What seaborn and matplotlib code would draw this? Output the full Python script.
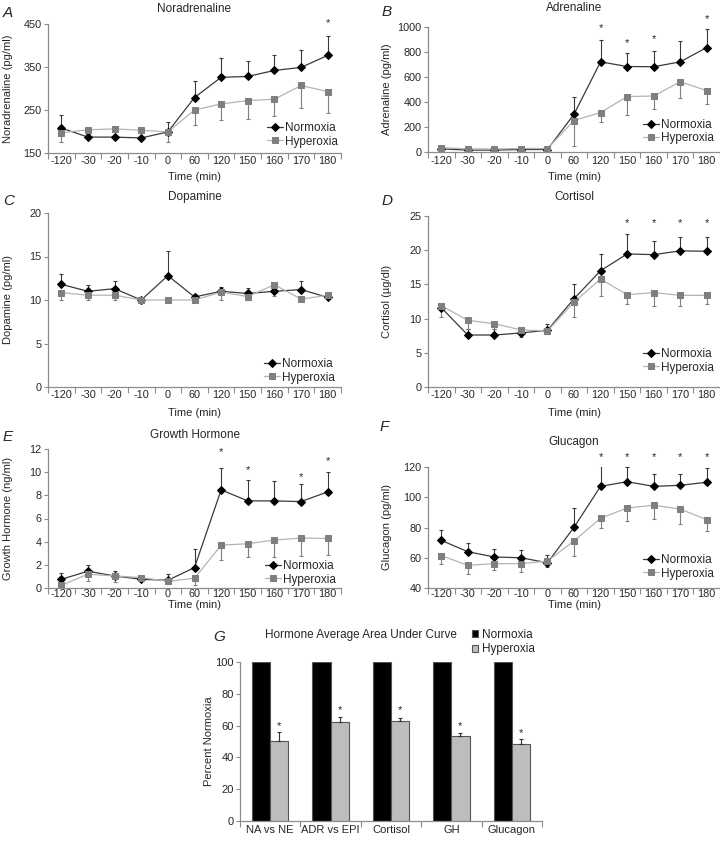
import numpy as np
import pandas as pd
import matplotlib
matplotlib.use('Agg')
import matplotlib.pyplot as plt
import seaborn as sns

sns.set_style('white')
plt.rcParams['font.family'] = ['Liberation Sans', 'DejaVu Sans']

# ---- data ----
times = ['-120', '-30', '-20', '-10', '0', '60', '120', '150', '160', '170', '180']

na_norm = [208, 187, 187, 185, 199, 279, 326, 328, 342, 349, 377]
na_norm_err = [31, 8, 5, 4, 23, 39, 44, 37, 35, 41, 44]
na_hyp = [197, 204, 206, 203, 199, 250, 264, 272, 275, 307, 293]
na_hyp_err = [21, 5, 4, 3, 23, 34, 38, 42, 39, 53, 51]
na_stars = {'180': 452}

adr_norm = [25, 15, 15, 20, 20, 302, 721, 684, 682, 721, 836]
adr_norm_err = [10, 5, 5, 5, 5, 141, 178, 112, 130, 165, 148]
adr_hyp = [35, 25, 25, 28, 28, 252, 316, 443, 448, 562, 491]
adr_hyp_err = [10, 5, 5, 5, 5, 202, 72, 149, 103, 132, 104]
adr_stars = {'120': 995, '150': 873, '160': 902, '180': 1066}

da_norm = [11.8, 11.0, 11.3, 10.0, 12.8, 10.35, 11.0, 10.75, 11.0, 11.2, 10.3]
da_norm_err = [1.15, 0.77, 0.9, 0.0, 2.85, 0.3, 0.55, 0.6, 0.3, 1.0, 0.1]
da_hyp = [10.85, 10.55, 10.55, 10.0, 10.0, 10.0, 10.9, 10.4, 11.76, 10.1, 10.55]
da_hyp_err = [0.87, 0.55, 0.55, 0.0, 0.0, 0.0, 0.9, 0.4, 1.3, 0.0, 0.0]
da_stars = {}

cort_norm = [11.6, 7.6, 7.6, 7.9, 8.3, 12.9, 17.0, 19.45, 19.35, 19.9, 19.85]
cort_norm_err = [0.4, 0.9, 0.9, 0.3, 0.9, 2.2, 2.5, 2.85, 2.0, 2.0, 2.15]
cort_hyp = [11.9, 9.75, 9.25, 8.35, 8.2, 12.4, 15.8, 13.5, 13.8, 13.4, 13.4]
cort_hyp_err = [1.6, 1.2, 0.7, 1.0, 0.5, 2.2, 2.5, 1.3, 1.9, 1.6, 1.2]
cort_stars = {'150': 24.0, '160': 24.0, '170': 24.0, '180': 24.0}

gh_norm = [0.75, 1.45, 1.04, 0.75, 0.67, 1.76, 8.47, 7.52, 7.52, 7.46, 8.3]
gh_norm_err = [0.55, 0.52, 0.45, 0.2, 0.5, 1.57, 1.85, 1.82, 1.68, 1.56, 1.73]
gh_hyp = [0.23, 1.19, 1.04, 0.9, 0.58, 0.84, 3.7, 3.82, 4.14, 4.31, 4.28]
gh_hyp_err = [0.15, 0.6, 0.52, 0.2, 0.2, 0.55, 1.24, 1.13, 1.45, 1.53, 1.45]
gh_stars = {'120': 11.7, '150': 10.15, '170': 9.6, '180': 11.0}

glu_norm = [71.5, 64.0, 60.5, 60.0, 56.7, 80.1, 107.2, 110.3, 107.2, 107.9, 109.9]
glu_norm_err = [6.6, 5.8, 5.3, 5.3, 5.0, 13.0, 13.5, 9.7, 8.0, 7.5, 9.5]
glu_hyp = [61.4, 55.0, 56.1, 56.1, 57.8, 71.1, 86.1, 92.9, 94.7, 92.2, 85.2]
glu_hyp_err = [5.3, 5.5, 4.4, 5.5, 4.0, 9.7, 6.2, 8.8, 9.1, 9.7, 7.7]
glu_stars = {'120': 126.6, '150': 126.6, '160': 126.6, '170': 126.6, '180': 126.6}

auc_labels = ['NA vs NE', 'ADR vs EPI', 'Cortisol', 'GH', 'Glucagon']
auc_norm = [100, 100, 100, 100, 100]
auc_hyp = [50.3, 62.4, 62.8, 53.2, 48.5]
auc_hyp_err = [5.4, 3.3, 1.8, 1.9, 3.0]
auc_stars = [59.9, 70.0, 70.0, 59.5, 55.3]

# ---- styling ----
W, H = 720, 841
SPINE = '#8c8c8c'
NORM_LINE, NORM_MARK = '#3a3a3a', 'black'
HYP_LINE, HYP_MARK = '#b4b4b4', '#7f7f7f'
TICK_FS = 7.8

fig = plt.figure(figsize=(W / 100, H / 100), dpi=100)


def add_px_axes(left, top, width, bottom):
    return fig.add_axes([left / W, 1 - bottom / H, width / W, (bottom - top) / H])


def ftext(x, y, s, **kw):
    fig.text(x / W, 1 - y / H, s, **kw)


def style_axes(ax, left, top, width, bottom, ylabel, ylab_x, xlab_y=None, xpad=3):
    sns.despine(ax=ax)
    for side in ['left', 'bottom']:
        ax.spines[side].set_color(SPINE)
        ax.spines[side].set_linewidth(0.9)
    ax.tick_params(axis='y', which='major', left=True, length=3, width=0.8,
                   color=SPINE, pad=1.5, labelsize=TICK_FS)
    ax.tick_params(axis='x', which='major', bottom=False, length=0,
                   pad=xpad * 0.72, labelsize=TICK_FS)
    ax.tick_params(axis='x', which='minor', bottom=True, length=4, width=0.8, color=SPINE)
    ax.set_ylabel(ylabel, fontsize=8)
    ax.yaxis.set_label_coords((ylab_x + 5.5 - left) / width, 0.5)
    if xlab_y is not None:
        ax.set_xlabel('Time (min)', fontsize=8)
        ax.xaxis.set_label_coords(0.5, -(xlab_y - 5.5 - bottom) / (bottom - top))
    else:
        ax.set_xlabel('')


def line_panel(box, norm, norm_err, hyp, hyp_err, stars, ylim, yticks, ylabel,
               title, letter, title_y, letter_xy, ylab_x, xlab_y, xpad, leg_xy):
    left, top, width, bottom = box
    ax = add_px_axes(left, top, width, bottom)
    x = np.arange(len(times))

    sns.lineplot(x=x, y=norm, ax=ax, color=NORM_LINE, linewidth=0.9, marker='D',
                 markersize=4.5, markerfacecolor=NORM_MARK, markeredgecolor=NORM_MARK,
                 label='Normoxia')
    sns.lineplot(x=x, y=hyp, ax=ax, color=HYP_LINE, linewidth=0.9, marker='s',
                 markersize=4.8, markerfacecolor=HYP_MARK, markeredgecolor=HYP_MARK,
                 label='Hyperoxia')
    zeros = np.zeros(len(times))
    ax.errorbar(x, norm, yerr=[zeros, norm_err], fmt='none', ecolor=NORM_LINE,
                elinewidth=0.8, capsize=1.6, capthick=0.8, zorder=1)
    ax.errorbar(x, hyp, yerr=[hyp_err, zeros], fmt='none', ecolor=HYP_MARK,
                elinewidth=0.8, capsize=1.6, capthick=0.8, zorder=1)

    for t, sy in stars.items():
        ax.text(times.index(t), sy, '*', ha='center', va='center', fontsize=8)

    ax.set_xlim(-0.5, len(times) - 0.5)
    ax.set_xticks(x)
    ax.set_xticklabels(times)
    ax.set_xticks(np.arange(-0.5, len(times)), minor=True)
    ax.set_ylim(*ylim)
    ax.set_yticks(yticks)
    style_axes(ax, left, top, width, bottom, ylabel, ylab_x, xlab_y, xpad)

    handles, labels = ax.get_legend_handles_labels()
    ax.legend(handles, labels, loc='lower right',
              bbox_to_anchor=(leg_xy[0] / W, 1 - leg_xy[1] / H),
              bbox_transform=fig.transFigure, frameon=False, fontsize=8.5,
              handlelength=1.35, handletextpad=0.2, labelspacing=0.15,
              borderpad=0, borderaxespad=0)

    ftext(left + width / 2, title_y, title, ha='center', va='center', fontsize=8.5)
    ftext(letter_xy[0], letter_xy[1], letter, ha='left', va='center',
          fontsize=11, style='italic')
    return ax


line_panel((48, 24, 293, 153), na_norm, na_norm_err, na_hyp, na_hyp_err, na_stars,
           (150, 450), [150, 250, 350, 450], 'Noradrenaline (pg/ml)', 'Noradrenaline', 'A',
           9, (3, 13), 8, 178, 3.5, (338, 147.5))
line_panel((428, 27, 292, 152), adr_norm, adr_norm_err, adr_hyp, adr_hyp_err, adr_stars,
           (0, 1000), np.arange(0, 1001, 200), 'Adrenaline (pg/ml)', 'Adrenaline', 'B',
           8, (382, 12), 387, 178, 3.5, (714, 144.5))
line_panel((48, 213, 293, 387), da_norm, da_norm_err, da_hyp, da_hyp_err, da_stars,
           (0, 20), [0, 5, 10, 15, 20], 'Dopamine (pg/ml)', 'Dopamine', 'C',
           197, (3, 201), 8, 413, 3, (335, 383.5))
line_panel((428, 216, 292, 387), cort_norm, cort_norm_err, cort_hyp, cort_hyp_err, cort_stars,
           (0, 25), [0, 5, 10, 15, 20, 25], 'Cortisol (\u00b5g/dl)', 'Cortisol', 'D',
           197, (382, 201), 387, 413, 2.5, (714, 373.5))
line_panel((48, 449, 293, 588), gh_norm, gh_norm_err, gh_hyp, gh_hyp_err, gh_stars,
           (0, 12), np.arange(0, 13, 2), 'Growth Hormone (ng/ml)', 'Growth Hormone', 'E',
           435, (3, 437), 8, 606, 1, (336, 585.5))
line_panel((428, 467, 292, 588), glu_norm, glu_norm_err, glu_hyp, glu_hyp_err, glu_stars,
           (40, 120), np.arange(40, 121, 20), 'Glucagon (pg/ml)', 'Glucagon', 'F',
           442, (380, 427), 387, 606, 1, (714, 579.5))

# ---- panel G: bar chart ----
gl, gt, gw, gb = 240, 662, 302, 821
axg = add_px_axes(gl, gt, gw, gb)
auc_df = pd.DataFrame({
    'Hormone': auc_labels * 2,
    'Group': ['Normoxia'] * len(auc_labels) + ['Hyperoxia'] * len(auc_labels),
    'Percent': auc_norm + auc_hyp,
})
sns.barplot(data=auc_df, x='Hormone', y='Percent', hue='Group',
            palette=['black', '#bdbdbd'], width=0.6, edgecolor='#555555',
            linewidth=0.8, errorbar=None, ax=axg)
pos = np.arange(len(auc_labels))
axg.errorbar(pos + 0.15, auc_hyp, yerr=[np.zeros(len(auc_hyp)), auc_hyp_err],
             fmt='none', ecolor='#333333', elinewidth=0.8, capsize=1.6, capthick=0.8)
for i, sy in enumerate(auc_stars):
    axg.text(i + 0.15, sy, '*', ha='center', va='center', fontsize=8)
axg.set_xlim(-0.5, len(auc_labels) - 0.5)
axg.set_xticks(np.arange(-0.5, len(auc_labels)), minor=True)
axg.set_ylim(0, 100)
axg.set_yticks(np.arange(0, 101, 20))
style_axes(axg, gl, gt, gw, gb, 'Percent Normoxia', 208, None, 4)
axg.tick_params(axis='both', which='major', labelsize=8)
handles, labels = axg.get_legend_handles_labels()
axg.legend(handles, labels, loc='upper left',
           bbox_to_anchor=(472 / W, 1 - 629 / H), bbox_transform=fig.transFigure,
           frameon=False, fontsize=8.5, handlelength=0.5, handleheight=0.5,
           handletextpad=0.35, labelspacing=0.2, borderpad=0, borderaxespad=0)
ftext(265, 635, 'Hormone Average Area Under Curve', ha='left', va='center', fontsize=8.5)
ftext(213, 637, 'G', ha='left', va='center', fontsize=11, style='italic')

fig.savefig('out.png', dpi=100)
